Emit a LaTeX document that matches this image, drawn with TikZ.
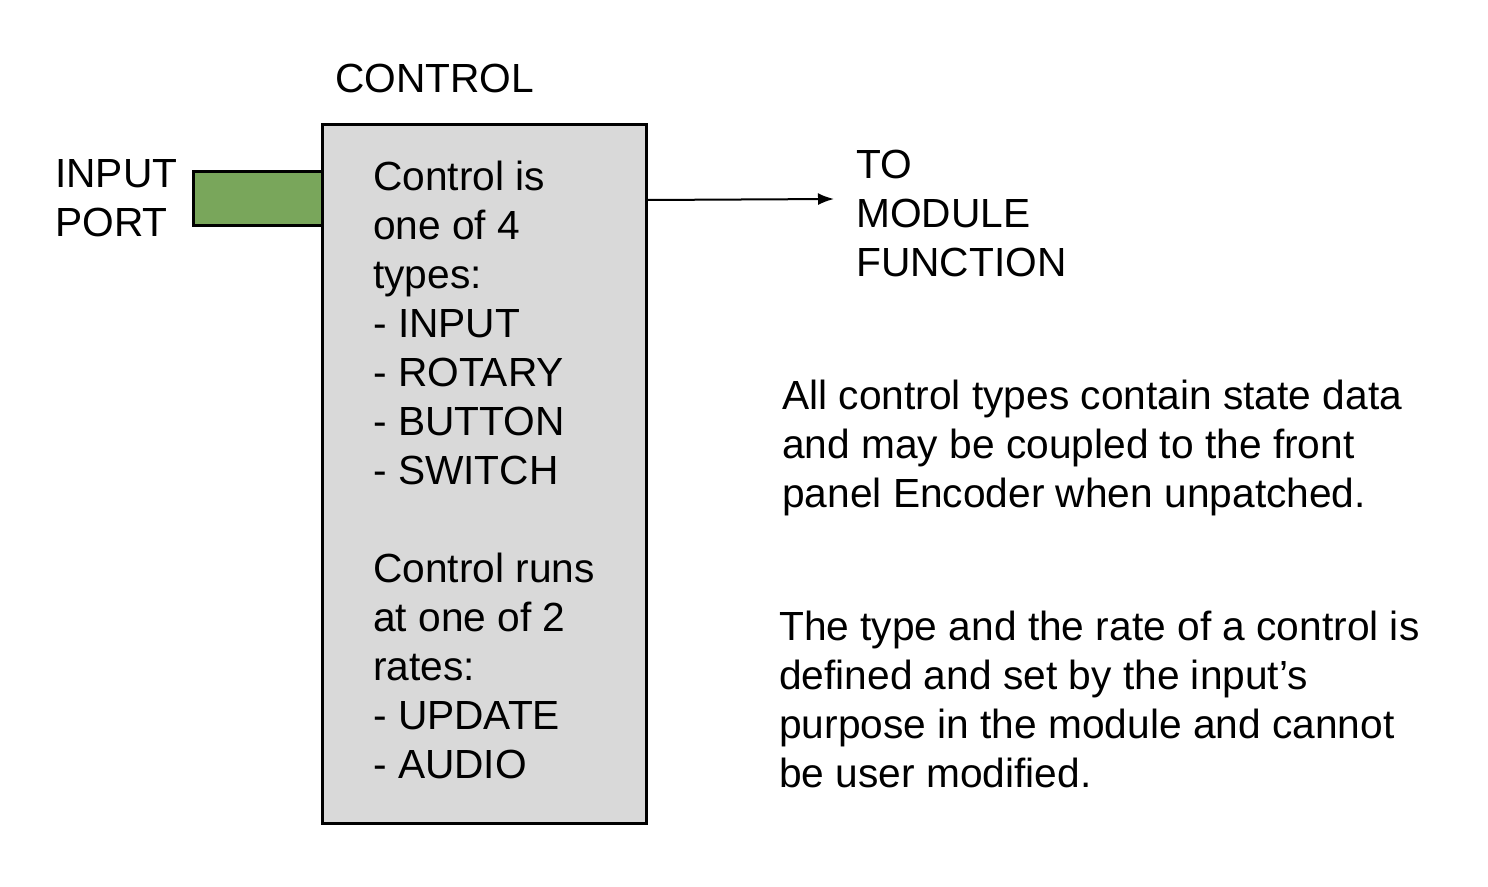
\documentclass[tikz,border=0pt]{standalone}
\usepackage{fontspec}
\setmainfont{Liberation Sans}
\usetikzlibrary{arrows.meta}
\definecolor{boxgray}{HTML}{D9D9D9}
\definecolor{portgreen}{HTML}{79A65B}
\tikzset{
  lbl/.style={font=\fontsize{40.7}{49}\selectfont, align=left, inner sep=0pt, anchor=base west},
  blk/.style={draw=black, line width=2.5pt, inner sep=0pt},
}
\begin{document}
\begin{tikzpicture}[x=1pt,y=-1pt]
\useasboundingbox (0,0) rectangle (1488,886);
\node[blk, fill=portgreen, minimum width=129pt, minimum height=54pt, anchor=north west] (port) at (192,170) {};
\node[blk, fill=boxgray, minimum width=324pt, minimum height=699pt, anchor=north west] (ctrl) at (321,123) {};
\node[lbl] (title) at (335,92) {CONTROL};
\node[lbl] (inlbl) at (55,236) {INPUT\\PORT};
\node[lbl] (body) at (373,778) {Control is\\one of 4\\types:\\- INPUT\\- ROTARY\\- BUTTON\\- SWITCH\\[49pt]Control runs\\at one of 2\\rates:\\- UPDATE\\- AUDIO};
\node[lbl] (tomod) at (856,276) {TO\\MODULE\\FUNCTION};
\node[lbl] (note1) at (782,507) {All control types contain state data\\and may be coupled to the front\\panel Encoder when unpatched.};
\node[lbl] (note2) at (779,787) {The type and the rate of a control is\\defined and set by the input’s\\purpose in the module and cannot\\be user modified.};
\coordinate (arrend) at (834,199);
\draw[line width=2pt, -{Latex[length=16pt,width=12pt]}] (ctrl.east |- 0,200) -- (arrend);
\end{tikzpicture}
\end{document}
